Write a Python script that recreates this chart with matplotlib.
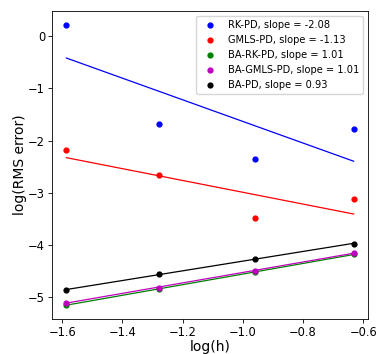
import numpy as np
import matplotlib
matplotlib.use("Agg")
import matplotlib.pyplot as plt

# log(h) values
log_h = [-1.586, -1.279, -0.961, -0.632]

# log(RMS error) per method
rk_pd = [0.23, -1.68, -2.35, -1.78]
gmls_pd = [-2.19, -2.66, -3.48, -3.13]
ba_rk_pd = [-5.16, -4.86, -4.525, -4.19]
ba_gmls_pd = [-5.115, -4.83, -4.50, -4.16]
ba_pd = [-4.871, -4.57, -4.28, -3.98]

names = ["RK-PD", "GMLS-PD", "BA-RK-PD", "BA-GMLS-PD", "BA-PD"]
slopes = ["-2.08", "-1.13", "1.01", "1.01", "0.93"]
series = [rk_pd, gmls_pd, ba_rk_pd, ba_gmls_pd, ba_pd]
colors = ['b', 'r', 'g', 'm', 'k']

fig = plt.figure(figsize=(3.78, 3.54), dpi=100)
ax = fig.add_axes([0.1376, 0.099, 0.836, 0.870])

x = np.array(log_h)
for name, slope, y, c in zip(names, slopes, series, colors):
    p = np.polyfit(x, y, 1)
    ax.scatter(x, y, s=12, color=c, label=f"{name}, slope = {slope}", zorder=3)
    ax.plot(x, np.polyval(p, x), color=c, linewidth=0.9)

ax.set_xlabel("log(h)", fontsize=10, labelpad=1)
ax.set_ylabel("log(RMS error)", fontsize=10, labelpad=1)
ax.tick_params(labelsize=8.3, length=2.8, pad=2.2, width=0.6)
for s in ax.spines.values():
    s.set_linewidth(0.6)
ax.set_ylim(-5.43, 0.49)
ax.legend(loc="upper right", fontsize=7.1, scatterpoints=1)

fig.savefig("out.png", dpi=100)
